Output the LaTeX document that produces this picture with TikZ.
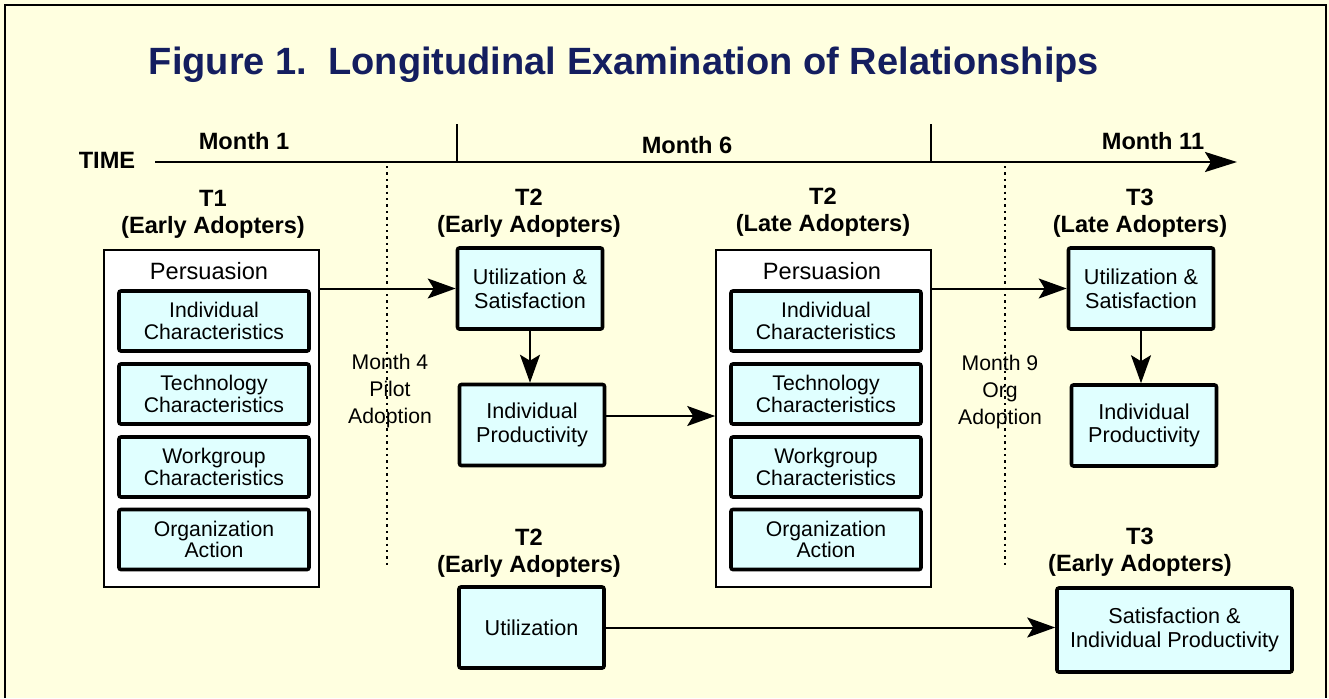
\documentclass[tikz,border=0pt]{standalone}
\usepackage{fontspec}
\setmainfont{Liberation Sans}
\usepackage{xcolor}
\usetikzlibrary{arrows.meta, positioning, shapes, fit}

\definecolor{paper}{RGB}{255,255,224}
\definecolor{boxfill}{RGB}{224,255,255}
\definecolor{titleblue}{RGB}{20,30,95}

\begin{document}
\begin{tikzpicture}[x=0.5pt, y=-0.5pt,
      factor/.style={rectangle, draw, line width=1.8pt, rounded corners=1pt, fill=boxfill, align=center,
        minimum width=95pt, minimum height=30pt, inner sep=0pt, font=\fontsize{10.6}{10.8}\selectfont},
      stage/.style={factor, minimum width=72.5pt, minimum height=40.5pt, font=\fontsize{10.8}{11.8}\selectfont},
      persuasion/.style={rectangle, draw, line width=0.8pt, fill=white, minimum width=107.5pt,
        minimum height=168.5pt, inner sep=0pt},
      group/.style={align=center, font=\fontsize{11.8}{13.5}\selectfont\bfseries},
      note/.style={align=center, font=\fontsize{10.6}{13.5}\selectfont},
      flow/.style={-{Stealth[length=14pt, width=10pt, inset=3pt]}, line width=1pt},
      phase/.style={dotted, line width=1.2pt}]
      \useasboundingbox (0,0) rectangle (1329,698);
      \fill[paper] (0,0) rectangle (1329,698);
      \draw[line width=1pt] (5,698) -- (5,5) -- (1326,5) -- (1326,698);

      \node[font=\fontsize{19}{22}\selectfont\bfseries, text=titleblue] (title) at (624,65)
        {Figure 1.\ \ Longitudinal Examination of Relationships};

      % time line
      \node[group] (time) at (107,160) {TIME};
      \coordinate (t0) at (155,162);
      \coordinate (t1) at (1237,162);
      \coordinate (tick6) at (457,124);
      \coordinate (tick11) at (931,124);
      \draw[-{Stealth[length=16pt, width=10pt, inset=3pt]}, line width=1.3pt] (t0) -- (t1);
      \draw[line width=1pt] (tick6) -- (tick6 |- t0);
      \draw[line width=1pt] (tick11) -- (tick11 |- t0);
      \node[group] (m1) at (244,141) {Month 1};
      \node[group] (m6) at (687,145) {Month 6};
      \node[group] (m11) at (1153,141) {Month 11};

      % adoption points
      \coordinate (pilottop) at (387,166);
      \coordinate (orgtop) at (1005,166);
      \draw[phase] (pilottop) -- ++(0,400);
      \draw[phase] (orgtop) -- ++(0,400);
      \node[note] (pilot) at (390,391) {Month 4\\Pilot\\Adoption};
      \node[note] (orgadopt) at (1000,392) {Month 9\\Org\\Adoption};

      % T1 early adopters
      \node[group] (t1early) at (213,214) {T1\\(Early Adopters)};
      \node[persuasion] (pers1) at (211.5,418.5) {};
      \node[font=\fontsize{11.8}{12}\selectfont] (plab1) at (209,271) {Persuasion};
      \node[factor] (ind1) at (214,321) {Individual\\Characteristics};
      \node[factor] (tech1) at (214,394) {Technology\\Characteristics};
      \node[factor] (work1) at (214,467) {Workgroup\\Characteristics};
      \node[factor] (org1) at (214,539.5) {Organization\\Action};

      % T2 early adopters
      \node[group] (t2early) at (529,213) {T2\\(Early Adopters)};
      \node[stage] (us1) at (530,288.5) {Utilization \&\\Satisfaction};
      \node[stage] (ip1) at (532,425) {Individual\\Productivity};

      % T2 late adopters
      \node[group] (t2late) at (823,212) {T2\\(Late Adopters)};
      \node[persuasion] (pers2) at (823.5,418.5) {};
      \node[font=\fontsize{11.8}{12}\selectfont] (plab2) at (822,271) {Persuasion};
      \node[factor] (ind2) at (826,321) {Individual\\Characteristics};
      \node[factor] (tech2) at (826,394) {Technology\\Characteristics};
      \node[factor] (work2) at (826,467) {Workgroup\\Characteristics};
      \node[factor] (org2) at (826,539.5) {Organization\\Action};

      % T3 late adopters
      \node[group] (t3late) at (1140,213) {T3\\(Late Adopters)};
      \node[stage] (us3) at (1141,288.5) {Utilization \&\\Satisfaction};
      \node[stage] (ip3) at (1144,425.5) {Individual\\Productivity};

      % early adopters, later on
      \node[group] (t2early2) at (529,553) {T2\\(Early Adopters)};
      \node[stage] (util) at (531.5,627.5) {Utilization};
      \node[group] (t3early) at (1140,552) {T3\\(Early Adopters)};
      \node[stage, minimum width=117.5pt, minimum height=42pt] (sip) at (1174.5,630)
        {Satisfaction \&\\Individual Productivity};

      \draw[flow] (pers1.east |- us1.west) -- (us1.west);
      \draw[flow] (us1.south) -- (us1.south |- ip1.north);
      \draw[flow] ([yshift=4.5pt]ip1.east) -- ([yshift=4.5pt]ip1.east -| pers2.west);
      \draw[flow] (pers2.east |- us3.west) -- (us3.west);
      \draw[flow] (us3.south) -- (us3.south |- ip3.north);
      \draw[flow] (util.east) -- (util.east -| sip.west);
    \end{tikzpicture}
\end{document}
